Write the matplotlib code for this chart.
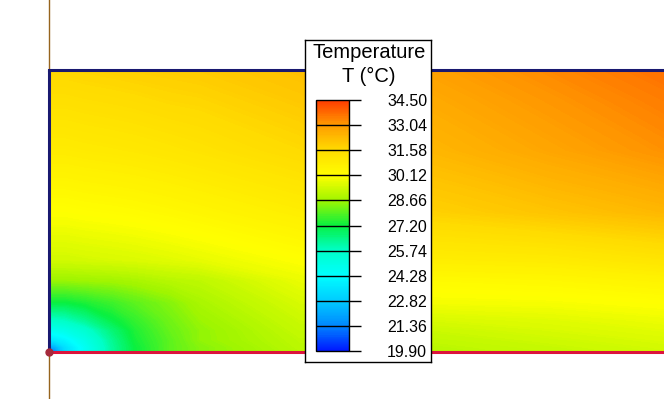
import numpy as np
import matplotlib
matplotlib.use('Agg')
import matplotlib.pyplot as plt
from matplotlib.colors import LinearSegmentedColormap

plt.rcParams['font.family'] = ['Liberation Sans', 'DejaVu Sans']

# colour scale ticks (deg C)
ticks = [19.90, 21.36, 22.82, 24.28, 25.74, 27.20, 28.66, 30.12, 31.58, 33.04, 34.50]
tick_colors = ['#0018ff', '#0088ff', '#00ccff', '#00ffff', '#00ffc8', '#08f040',
               '#a0f500', '#ffff00', '#ffdc00', '#ff9c00', '#ff3c00']

# plate node positions (m), plate height 1
x_nodes = [0.0, 0.021, 0.057, 0.128, 0.223, 0.305, 0.429, 0.535, 0.890, 1.351, 1.777, 2.20]
y_nodes = [0.0, 0.018, 0.043, 0.078, 0.113, 0.177, 0.255, 0.326, 0.496, 0.716, 0.894, 1.0]

# temperature read at the nodes, rows bottom -> top
T = [
    [20.0, 21.4, 23.2, 24.6, 26.2, 27.2, 28.0, 28.4, 29.0, 29.0, 29.2, 29.4],
    [22.0, 22.3, 23.4, 24.6, 26.2, 27.2, 28.0, 28.4, 29.05, 29.05, 29.25, 29.45],
    [23.6, 23.7, 24.0, 24.9, 26.3, 27.3, 28.0, 28.5, 29.1, 29.15, 29.35, 29.55],
    [24.7, 24.7, 24.9, 25.5, 26.6, 27.4, 28.1, 28.5, 29.2, 29.3, 29.5, 29.7],
    [25.7, 25.7, 25.8, 26.3, 27.1, 27.6, 28.2, 28.6, 29.3, 29.5, 29.65, 29.85],
    [27.2, 27.2, 27.2, 27.4, 27.7, 28.0, 28.4, 28.8, 29.5, 29.95, 30.0, 30.15],
    [28.6, 28.6, 28.6, 28.65, 28.7, 28.8, 29.0, 29.1, 29.8, 30.3, 30.4, 30.6],
    [29.4, 29.4, 29.4, 29.45, 29.5, 29.55, 29.65, 29.75, 30.1, 30.8, 30.9, 31.2],
    [30.1, 30.1, 30.1, 30.15, 30.2, 30.25, 30.35, 30.45, 30.8, 31.8, 32.1, 32.4],
    [30.9, 30.9, 30.9, 30.95, 31.0, 31.05, 31.15, 31.25, 31.6, 32.4, 32.8, 33.2],
    [31.4, 31.4, 31.4, 31.45, 31.5, 31.55, 31.65, 31.7, 32.0, 32.7, 33.1, 33.5],
    [31.7, 31.7, 31.7, 31.75, 31.8, 31.85, 31.9, 31.95, 32.2, 32.9, 33.3, 33.7],
]

tmin, tmax = ticks[0], ticks[-1]
fr = [(t - tmin) / (tmax - tmin) for t in ticks]
cmap = LinearSegmentedColormap.from_list('temp', list(zip(fr, tick_colors)))

W, H = 664, 399
fig = plt.figure(figsize=(W / 100, H / 100), dpi=100)
ax = fig.add_axes([0, 0, 1, 1])
ax.axis('off')
s = 282.0  # pixels per metre
ax.set_xlim(-49 / s, (W - 49) / s)
ax.set_ylim(-(H - 352) / s, 352 / s)

X, Y = np.meshgrid(x_nodes, y_nodes)
cf = ax.contourf(X, Y, np.array(T), levels=np.linspace(tmin, tmax, 400),
                 cmap=cmap, vmin=tmin, vmax=tmax, antialiased=False)

# global axes lines
ax.axvline(0, color='#96641e', lw=1, zorder=1)
ax.plot([0, 0], [0, 1], color='#191970', lw=2.2, zorder=3, solid_capstyle='butt')
ax.plot([0, x_nodes[-1]], [1, 1], color='#191970', lw=2.2, zorder=3)
ax.plot([0, x_nodes[-1]], [0, 0], color='#dc143c', lw=2.2, zorder=4)
ax.plot(0, 0, 'o', color='#a52a3c', ms=5, zorder=5)

# legend box
box = fig.add_axes([305 / W, 1 - 362 / H, 126 / W, 322 / H])
box.set_xticks([])
box.set_yticks([])
for sp in box.spines.values():
    sp.set_color('black')
    sp.set_linewidth(1)
box.set_facecolor('white')

fig.text(369 / W, 1 - 53 / H, 'Temperature', ha='center', va='center', fontsize=14.5)
fig.text(369 / W, 1 - 76 / H, 'T (°C)', ha='center', va='center', fontsize=14.5)

cax = fig.add_axes([316 / W, 1 - 351 / H, 33 / W, 251 / H])
cb = fig.colorbar(cf, cax=cax, ticks=ticks)
cb.outline.set_edgecolor('black')
cb.outline.set_linewidth(1)
cax.set_ylim(tmin, tmax)
cax.set_yticklabels(['%.2f' % t for t in ticks])
cax.tick_params(axis='y', length=8.5, width=1, color='black', pad=19, labelsize=11.5)
for t in ticks[1:-1]:
    cax.axhline(t, color='black', lw=1)

fig.savefig('out.png', dpi=100)
